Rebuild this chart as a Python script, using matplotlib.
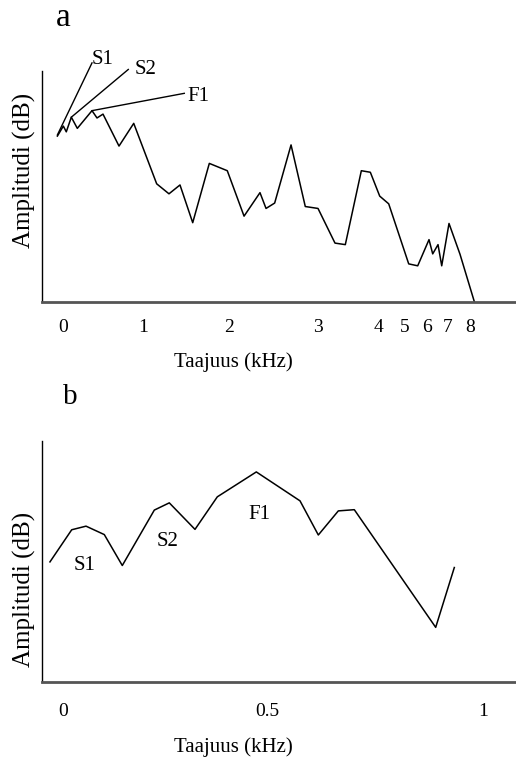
import numpy as np
import matplotlib
matplotlib.use("Agg")
import matplotlib.pyplot as plt

plt.rcParams['font.family'] = ['Liberation Serif', 'DejaVu Serif']

# ---------------- data ----------------
# Panel a: spectrum (frequency in kHz, amplitude in relative dB)
freq_a = [-0.07, 0.004, 0.041, 0.104, 0.179, 0.3625, 0.425, 0.50, 0.70, 0.884,
          1.159, 1.302, 1.430, 1.578, 1.771, 1.980, 2.169, 2.348, 2.416, 2.513,
          2.697, 2.857, 3.0, 3.283, 3.455, 3.722, 3.872, 4.063, 4.396, 5.168,
          5.577, 6.095, 6.271, 6.524, 6.700, 7.045, 7.545, 8.195]
amp_a = [-16.9, -14.3, -15.8, -12.0, -14.9, -10.3, -12.2, -11.2, -19.5, -13.6,
         -29.3, -31.9, -29.6, -39.4, -24.0, -25.9, -37.7, -31.6, -35.7, -34.3,
         -19.2, -35.2, -35.7, -44.7, -45.1, -25.9, -26.3, -32.5, -34.5, -50.1,
         -50.6, -43.8, -47.5, -45.1, -50.6, -39.6, -47.6, -59.9]
ticks_a = [0, 1, 2, 3, 4, 5, 6, 7, 8]
tick_labels_a = ['0', '1', '2', '3', '4', '5', '6', '7', '8']

# Panel b: low-frequency detail
freq_b = [-0.032, 0.0213, 0.0564, 0.1012, 0.1453, 0.2238, 0.2605, 0.3235,
          0.3782, 0.4738, 0.5764, 0.6188, 0.6651, 0.7021, 0.8905, 0.9336]
amp_b = [-30.1, -22.1, -21.2, -23.3, -31.0, -17.2, -15.4, -22.0,
         -13.9, -7.7, -14.9, -23.4, -17.4, -17.1, -46.4, -31.5]
ticks_b = [0, 0.5, 1]
tick_labels_b = ['0', '0.5', '1']

# annotation labels
labels = ['S1', 'S2', 'F1']
# panel a: leader start (on curve) and end, label position (kHz, dB)
lead_start_a = [(-0.07, -16.6), (0.104, -12.0), (0.3625, -10.3)]
lead_end_a = [(0.3625, 2.1), (0.816, 0.4), (1.480, -5.8)]
label_pos_a = [(0.50, 3.0), (1.031, 0.3), (1.640, -6.7)]
# panel b: label positions
label_pos_b = [(0.0539, -31.1), (0.2574, -25.1), (0.4804, -18.2)]

# ---------------- scales (tick spacing of the original drawing) -------------
knots_a_khz = [-5, 0, 1, 2, 3, 4, 5, 6, 7, 8, 20]
knots_a_pos = [-337, 63, 143, 229, 318, 378, 405, 427, 448, 470, 734]
knots_b_khz = [-1, 0, 0.5, 1, 3]
knots_b_pos = [-345, 63, 267, 483, 1347]


def make_scale(kx, kp):
    kx = np.asarray(kx, float)
    kp = np.asarray(kp, float)
    def fwd(x):
        return np.interp(x, kx, kp)
    def inv(p):
        return np.interp(p, kp, kx)
    return fwd, inv


W, H = 516, 759
fig = plt.figure(figsize=(W / 100, H / 100), dpi=100)

ax_a = fig.add_axes([42 / W, 1 - 302 / H, (W - 42) / W, (302 - 71) / H])
ax_b = fig.add_axes([42 / W, 1 - 682 / H, (W - 42) / W, (682 - 441) / H])

for ax in (ax_a, ax_b):
    ax.spines['top'].set_visible(False)
    ax.spines['right'].set_visible(False)
    ax.spines['left'].set_linewidth(1.0)
    ax.spines['left'].set_color('black')
    ax.spines['bottom'].set_linewidth(2.0)
    ax.spines['bottom'].set_color('#555555')
    ax.set_yticks([])
    ax.patch.set_alpha(0)

# ---- panel a ----
ax_a.set_xscale('function', functions=make_scale(knots_a_khz, knots_a_pos))
ax_a.plot(freq_a, amp_a, color='black', lw=1.1, clip_on=False)
ax_a.set_xlim(-0.2625, 10.09)
ax_a.set_ylim(-60, 0)
ax_a.set_xticks(ticks_a)
ax_a.set_xticklabels(tick_labels_a)
ax_a.tick_params(axis='x', length=0, pad=12, labelsize=14)
ax_a.set_xlabel('Taajuus (kHz)', fontsize=15)
ax_a.xaxis.label.set_va('center')
ax_a.xaxis.set_label_coords((233 - 42) / 474, (302 - 362) / 231)
ax_a.set_ylabel('Amplitudi (dB)', fontsize=18)
ax_a.yaxis.label.set_va('center')
ax_a.yaxis.set_label_coords((24 - 42) / 474, (302 - 170) / 231)

for lab, s, e, p in zip(labels, lead_start_a, lead_end_a, label_pos_a):
    ax_a.plot([s[0], e[0]], [s[1], e[1]], color='black', lw=1.0, clip_on=False)
    ax_a.text(p[0], p[1], lab, fontsize=15, ha='center', va='center', clip_on=False)

# ---- panel b ----
ax_b.set_xscale('function', functions=make_scale(knots_b_khz, knots_b_pos))
ax_b.plot(freq_b, amp_b, color='black', lw=1.1, clip_on=False)
ax_b.set_xlim(-0.0515, 1.0764)
ax_b.set_ylim(-60, 0)
ax_b.set_xticks(ticks_b)
ax_b.set_xticklabels(tick_labels_b)
ax_b.tick_params(axis='x', length=0, pad=15, labelsize=14)
ax_b.set_xlabel('Taajuus (kHz)', fontsize=15)
ax_b.xaxis.label.set_va('center')
ax_b.xaxis.set_label_coords((233 - 42) / 474, (682 - 747) / 241)
ax_b.set_ylabel('Amplitudi (dB)', fontsize=18)
ax_b.yaxis.label.set_va('center')
ax_b.yaxis.set_label_coords((24 - 42) / 474, (682 - 589) / 241)

for lab, p in zip(labels, label_pos_b):
    ax_b.text(p[0], p[1], lab, fontsize=15, ha='center', va='center')

fig.text(63 / W, 1 - 18 / H, 'a', fontsize=24, ha='center', va='center')
fig.text(70 / W, 1 - 397 / H, 'b', fontsize=21, ha='center', va='center')

fig.savefig('out.png', dpi=100)
